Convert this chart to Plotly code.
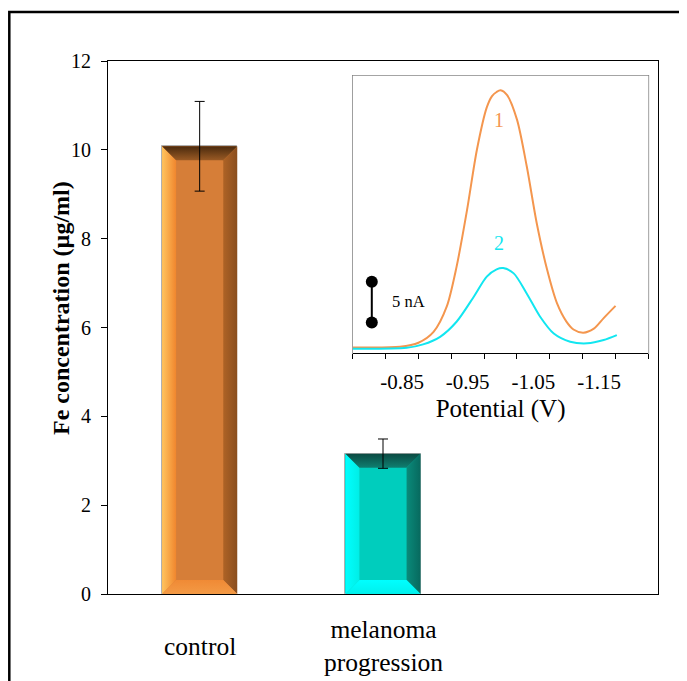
import plotly.graph_objects as go

# ---------------- data ----------------
categories = ["control", "melanoma<br>progression"]
fe_values = [10.08, 3.16]
fe_errors = [1.01, 0.33]
y_ticks = [0, 2, 4, 6, 8, 10, 12]

# inset voltammograms (potential in V, current in nA above baseline)
pot_1 = [-0.775, -0.847, -0.875, -0.898, -0.918, -0.933, -0.949, -0.964, -0.979, -0.987,
         -0.994, -1.000, -1.010, -1.025, -1.040, -1.055, -1.071, -1.086, -1.100, -1.111,
         -1.126, -1.142, -1.157, -1.175]
cur_1 = [0.70, 0.78, 1.27, 2.6, 5.7, 10.6, 17.6, 25.0, 30.2, 31.6,
         32.1, 32.3, 31.7, 28.7, 22.9, 16.0, 10.2, 6.1, 3.9, 2.9,
         2.5, 3.0, 4.3, 5.8]
pot_2 = [-0.775, -0.857, -0.882, -0.908, -0.933, -0.959, -0.979, -0.994, -1.004, -1.020,
         -1.040, -1.060, -1.081, -1.106, -1.132, -1.157, -1.177]
cur_2 = [0.53, 0.65, 1.07, 2.0, 3.85, 6.9, 9.4, 10.3, 10.45, 9.8,
         7.3, 4.5, 2.4, 1.4, 1.2, 1.6, 2.2]
inset_tickvals = [-0.85, -0.95, -1.05, -1.15]
inset_ticktext = ["-0.85", "-0.95", "-1.05", "-1.15"]
inset_minor_ticks = [-0.775, -0.825, -0.875, -0.925, -0.975, -1.025, -1.075, -1.125, -1.175, -1.225]
curve_labels = ["1", "2"]
curve_label_pos = [(-0.997, 28.6), (-0.997, 13.5)]
scale_bar_pot = -0.804
scale_bar_cur = [3.77, 8.77]

# ---------------- styling ----------------
FONT = "Liberation Serif, Times New Roman, serif"
# the page body has an 8px margin, so the figure is sized/offset to compensate
W, H = 679, 673
ML, MR, MT, MB = 100, 29, 53, 87
plot_w = W - ML - MR
plot_h = H - MT - MB
x_range = [-0.5, 2.5]
y_range = [0, 12]
px_x = plot_w / (x_range[1] - x_range[0])
px_y = plot_h / (y_range[1] - y_range[0])
bar_w = 0.41
bev_x = 14 / px_x
bev_y = 14 / px_y

bar_styles = [
    dict(face="#D67E38", left=["#FFC45E", "#F0862E"], right=["#AE6326", "#8A4E1E"],
         top=["#9A5A24", "#4A2A0E"], bottom=["#F39A45", "#F08A35"], curve="#F4964E"),
    dict(face="#00CDBD", left=["#00FFFF", "#00EEE6"], right=["#0A8A7A", "#07695E"],
         top=["#0F7E70", "#0B4A42"], bottom=["#00F0EC", "#00FFFF"], curve="#12E6F0"),
]

fig = go.Figure()

fig.add_trace(go.Bar(
    x=list(range(len(fe_values))), y=fe_values, width=bar_w,
    marker=dict(color=[s["face"] for s in bar_styles], line=dict(color="#B0B0B0", width=1)),
    showlegend=False, hoverinfo="skip",
))

# bevel strips built from bar values
for i, v in enumerate(fe_values):
    s = bar_styles[i]
    x0, x1 = i - bar_w / 2, i + bar_w / 2
    polys = {
        "left": ([x0, x0, x0 + bev_x, x0 + bev_x, x0], [0, v, v - bev_y, bev_y, 0], "horizontal"),
        "right": ([x1, x1, x1 - bev_x, x1 - bev_x, x1], [v, 0, bev_y, v - bev_y, v], "horizontal"),
        "top": ([x0, x1, x1 - bev_x, x0 + bev_x, x0], [v, v, v - bev_y, v - bev_y, v], "vertical"),
        "bottom": ([x0, x1, x1 - bev_x, x0 + bev_x, x0], [0, 0, bev_y, bev_y, 0], "vertical"),
    }
    for k, (xs, ys, orient) in polys.items():
        c = s[k]
        fig.add_trace(go.Scatter(
            x=xs, y=ys, mode="lines", fill="toself", line=dict(width=0, color=c[0]),
            fillgradient=dict(type=orient, colorscale=[[0, c[0]], [1, c[1]]]),
            showlegend=False, hoverinfo="skip",
        ))

# error bars
fig.add_trace(go.Scatter(
    x=list(range(len(fe_values))), y=fe_values, mode="markers",
    marker=dict(color="rgba(0,0,0,0)", size=1),
    error_y=dict(type="data", array=fe_errors, color="black", thickness=1, width=5),
    showlegend=False, hoverinfo="skip",
))

# inset curves
fig.add_trace(go.Scatter(x=pot_1, y=cur_1, mode="lines", xaxis="x2", yaxis="y2",
                         line=dict(color=bar_styles[0]["curve"], width=2, shape="spline", smoothing=0.8),
                         showlegend=False, hoverinfo="skip"))
fig.add_trace(go.Scatter(x=pot_2, y=cur_2, mode="lines", xaxis="x2", yaxis="y2",
                         line=dict(color=bar_styles[1]["curve"], width=2, shape="spline", smoothing=0.8),
                         showlegend=False, hoverinfo="skip"))
# scale bar
fig.add_trace(go.Scatter(x=[scale_bar_pot, scale_bar_pot], y=scale_bar_cur, mode="lines+markers",
                         xaxis="x2", yaxis="y2",
                         line=dict(color="black", width=2), marker=dict(color="black", size=12),
                         showlegend=False, hoverinfo="skip"))

annotations = []
for i, lab in enumerate(categories):
    annotations.append(dict(x=i, xref="x", y=-0.0976, yref="paper", text=lab, showarrow=False,
                            yanchor="middle", xanchor="center",
                            font=dict(family=FONT, size=25.5, color="black")))
annotations.append(dict(x=-0.1127, xref="paper", y=0.5366, yref="paper",
                        text="<b>Fe concentration (µg/ml)</b>", textangle=-90, showarrow=False,
                        font=dict(family=FONT, size=24, color="black")))
for lab, (px, cy), s in zip(curve_labels, curve_label_pos, bar_styles):
    annotations.append(dict(x=px, y=cy, xref="x2", yref="y2", text=lab, showarrow=False,
                            font=dict(family=FONT, size=20, color=s["curve"])))
annotations.append(dict(x=-0.832, y=6.3, xref="x2", yref="y2", text="5 nA", showarrow=False,
                        xanchor="left", font=dict(family=FONT, size=16.5, color="black")))

shapes = [
    # inset frame
    dict(type="rect", xref="x2 domain", yref="y2 domain", x0=0, x1=1, y0=0, y1=1,
         line=dict(color="#7F7F7F", width=1.5), layer="below"),
    # outer frame of the figure
    dict(type="rect", xref="paper", yref="paper", x0=(1.3 - ML) / plot_w, x1=1.3,
         y0=-0.4, y1=(plot_h + MT - 4) / plot_h,
         line=dict(color="black", width=2.5)),
]

fig.update_layout(
    width=W, height=H, autosize=False,
    margin=dict(l=ML, r=MR, t=MT, b=MB),
    paper_bgcolor="white", plot_bgcolor="white",
    font=dict(family=FONT, color="black"),
    bargap=0,
    xaxis=dict(range=x_range, showline=True, mirror=True, linecolor="black", linewidth=1,
               ticks="", showticklabels=False, showgrid=False, zeroline=False, fixedrange=True),
    yaxis=dict(range=y_range, tickvals=y_ticks, showline=True, mirror=True, linecolor="black",
               linewidth=1, ticks="outside", ticklen=6, tickcolor="black", showgrid=False,
               zeroline=False, tickfont=dict(family=FONT, size=20, color="black"),
               ticklabelstandoff=6),
    xaxis2=dict(domain=[0.445, 0.9825], anchor="y2", range=[-0.775, -1.225],
                tickvals=inset_tickvals, ticktext=inset_ticktext, ticks="",
                minor=dict(tickvals=inset_minor_ticks, ticks="outside", ticklen=5, tickcolor="black"),
                showline=True, linecolor="black", linewidth=1, showgrid=False, zeroline=False,
                tickfont=dict(family=FONT, size=21, color="black"), ticklabelstandoff=10,
                title=dict(text="Potential (V)", font=dict(family=FONT, size=25, color="black"),
                           standoff=6)),
    yaxis2=dict(domain=[0.452, 0.9724], anchor="x2", range=[0, 34.1], showticklabels=False,
                ticks="", showgrid=False, zeroline=False, showline=False),
    annotations=annotations,
    shapes=shapes,
)

fig.write_html("out.html")
